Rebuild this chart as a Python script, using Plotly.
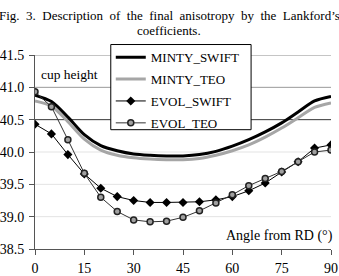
import plotly.graph_objects as go

# ---- data ----
angles = [0, 5, 10, 15, 20, 25, 30, 35, 40, 45, 50, 55, 60, 65, 70, 75, 80, 85, 90]
minty_swift = [40.88, 40.78, 40.54, 40.27, 40.10, 40.02, 39.97, 39.95, 39.94, 39.94,
               39.96, 40.01, 40.09, 40.19, 40.31, 40.45, 40.62, 40.79, 40.86]
minty_teo = [40.79, 40.71, 40.47, 40.20, 40.03, 39.95, 39.91, 39.89, 39.88, 39.88,
             39.90, 39.95, 40.02, 40.11, 40.23, 40.37, 40.53, 40.69, 40.76]
evol_swift = [40.43, 40.28, 39.96, 39.66, 39.44, 39.31, 39.25, 39.22, 39.22, 39.22,
              39.23, 39.26, 39.31, 39.40, 39.52, 39.69, 39.85, 40.06, 40.11]
evol_teo = [40.93, 40.70, 40.19, 39.67, 39.30, 39.08, 38.95, 38.92, 38.93, 38.99,
            39.09, 39.21, 39.34, 39.48, 39.59, 39.70, 39.85, 40.00, 40.03]
y_ticks = [38.5, 39.0, 39.5, 40.0, 40.5, 41.0, 41.5]
x_ticks = [0, 15, 30, 45, 60, 75, 90]

title_words = ["Fig.", "3.", "Description", "of", "the", "final", "anisotropy",
               "by", "the", "Lankford’s"]
title_line2 = "coefficients."
series_names = ["MINTY_SWIFT", "MINTY_TEO", "EVOL_SWIFT", "EVOL_TEO"]

FONT = "Liberation Serif"
# the caption line is justified in the original: slightly wider word gaps
GAP = " \u00a0"
title_line1 = GAP.join(title_words)

fig = go.Figure()
fig.add_trace(go.Scatter(x=angles, y=minty_swift, name=series_names[0], mode="lines",
                         line=dict(color="black", width=3, shape="spline", smoothing=0.8),
                         legendgroup="a"))
fig.add_trace(go.Scatter(x=angles, y=minty_teo, name=series_names[1], mode="lines",
                         line=dict(color="#a6a6a6", width=3, shape="spline", smoothing=0.8),
                         legendgroup="b"))
fig.add_trace(go.Scatter(x=angles, y=evol_swift, name=series_names[2], mode="lines+markers",
                         line=dict(color="black", width=1),
                         marker=dict(symbol="diamond", size=7, color="black"),
                         legendgroup="c"))
fig.add_trace(go.Scatter(x=angles, y=evol_teo, name=series_names[3], mode="lines+markers",
                         line=dict(color="#333333", width=1),
                         marker=dict(symbol="circle", size=6, color="#a0a0a0",
                                     line=dict(color="#222222", width=1.5)),
                         legendgroup="d"))

grid_colors = {39.0: "#e3e3e3", 39.5: "#e3e3e3", 40.0: "#e3e3e3",
               40.5: "#333333", 41.0: "#999999", 41.5: "#8c8c8c"}
shapes = []
for t in y_ticks[1:]:
    shapes.append(dict(type="line", xref="paper", yref="y", x0=0, x1=1, y0=t, y1=t,
                       line=dict(color=grid_colors[t], width=1), layer="below"))
# legend frame (white box covering the plot, black border)
shapes.append(dict(type="rect", xref="paper", yref="paper",
                   x0=0.256, x1=0.730, y0=0.615, y1=1.054,
                   fillcolor="white", line=dict(color="black", width=1), layer="above"))

annotations = [
    dict(text=title_line1, xref="paper", yref="paper", x=0.453, y=1.206,
         xanchor="center", yanchor="middle", showarrow=False,
         font=dict(family=FONT, size=13)),
    dict(text=title_line2, xref="paper", yref="paper", x=0.453, y=1.124,
         xanchor="center", yanchor="middle", showarrow=False,
         font=dict(family=FONT, size=13)),
    dict(text="cup height", xref="paper", yref="paper", x=0.015, y=0.9,
         xanchor="left", yanchor="middle", showarrow=False,
         font=dict(family=FONT, size=13.5)),
    dict(text="Angle from RD (°)", xref="paper", yref="paper", x=1.0135, y=0.067,
         xanchor="right", yanchor="middle", showarrow=False,
         font=dict(family=FONT, size=14)),
]

fig.update_layout(
    width=339, height=276,
    margin=dict(l=35, r=8, t=55, b=27),
    paper_bgcolor="white", plot_bgcolor="white",
    font=dict(family=FONT, size=13, color="black"),
    xaxis=dict(range=[0, 90], tickvals=x_ticks, showgrid=False, zeroline=False,
               showline=True, linecolor="#555555", linewidth=1,
               ticks="outside", ticklen=5, tickcolor="#555555", automargin=False,
               ticklabelstandoff=1, tickfont=dict(family=FONT, size=14)),
    yaxis=dict(range=[38.5, 41.5], tickvals=y_ticks, tickformat=".1f",
               showgrid=False, zeroline=False,
               showline=True, linecolor="#555555", linewidth=1,
               ticks="outside", ticklen=5, tickcolor="#555555", automargin=False,
               ticklabelstandoff=2, tickfont=dict(family=FONT, size=14)),
    shapes=shapes,
    legend=dict(x=0.256, y=1.066, xanchor="left", yanchor="top",
                bgcolor="rgba(0,0,0,0)", borderwidth=0,
                font=dict(family=FONT, size=13), tracegroupgap=2),
    showlegend=True,
    annotations=annotations,
)

fig.write_html("out.html")
